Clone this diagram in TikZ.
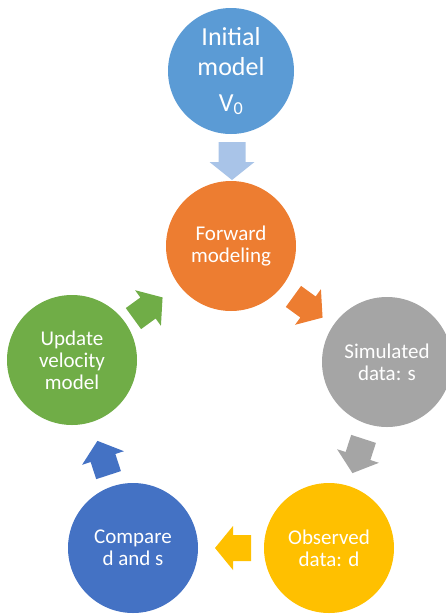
\documentclass[tikz,border=0pt]{standalone}
\usepackage{fontspec}
\setmainfont{Carlito}
\definecolor{initblue}{HTML}{5B9BD5}
\definecolor{fwdorange}{HTML}{ED7D31}
\definecolor{simgray}{HTML}{A5A5A5}
\definecolor{obsyellow}{HTML}{FFC000}
\definecolor{cmpblue}{HTML}{4472C4}
\definecolor{updgreen}{HTML}{70AD47}
\definecolor{lightarrow}{HTML}{A9C4E8}
\begin{document}
\begin{tikzpicture}[x=1pt,y=-1pt,
  stage/.style={circle, minimum size=130pt, inner sep=0pt, text=white, align=center,
    font=\fontsize{21}{22}\selectfont},
  pics/cyclearrow/.style={code={\fill[pic actions] (-18,-13) -- (0,-13) -- (0,-22) -- (18,0) -- (0,22) -- (0,13) -- (-18,13) -- cycle;}},
  pics/bigarrow/.style={code={\fill[pic actions] (-19,-13.5) -- (1,-13.5) -- (1,-22.5) -- (19,0) -- (1,22.5) -- (1,13.5) -- (-19,13.5) -- cycle;}}
]
\useasboundingbox (0,0) rectangle (446,614);
\clip (0,0) rectangle (446,614);
\node[stage, fill=initblue, minimum size=126pt, font=\fontsize{26}{30}\selectfont] (init) at (231,71)
  {Initial\\model\\[6pt]V\textsubscript{0}};
\node[stage, fill=fwdorange] (fwd) at (231,246) {Forward\\modeling};
\node[stage, fill=simgray] (sim) at (387,362) {Simulated\\data: s};
\node[stage, fill=obsyellow] (obs) at (329,548) {Observed\\data: d};
\node[stage, fill=cmpblue] (cmp) at (133,548) {Compare\\d and s};
\node[stage, fill=updgreen] (upd) at (72,360) {Update\\velocity\\model};
\pic[fill=lightarrow, rotate=-90] (a0) at (232,161) {bigarrow};
\pic[fill=fwdorange, rotate=-36] (a1) at (308,307) {cyclearrow};
\pic[fill=simgray, rotate=-108] (a2) at (358,456) {cyclearrow};
\pic[fill=obsyellow, rotate=180] (a3) at (233,548) {cyclearrow};
\pic[fill=cmpblue, rotate=108] (a4) at (103,458) {cyclearrow};
\pic[fill=updgreen, rotate=36] (a5) at (148,308) {cyclearrow};
\end{tikzpicture}
\end{document}
